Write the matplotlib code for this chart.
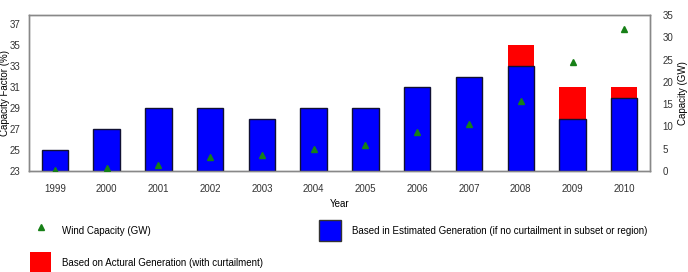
import matplotlib.pyplot as plt
import numpy as np
from matplotlib.lines import Line2D
from matplotlib.patches import Patch

plt.rcParams['font.family'] = ['Liberation Sans', 'DejaVu Sans']
plt.rcParams['font.size'] = 7

# data
years = ['1999', '2000', '2001', '2002', '2003', '2004',
         '2005', '2006', '2007', '2008', '2009', '2010']
cf_estimated = [25, 27, 29, 29, 28, 29, 29, 31, 32, 33, 28, 30]
cf_actual = [np.nan] * 9 + [35, 31, 31]
wind_gw = [0.3, 0.7, 1.4, 3.2, 3.7, 5.0, 5.8, 8.7, 10.5, 15.8, 24.5, 31.9]

base = 23
x = np.arange(len(years))

fig = plt.figure(figsize=(6.88, 2.72), dpi=100, facecolor='white')
ax = fig.add_axes([0.042, 0.371, 0.903, 0.574])

# red bars (with curtailment) sit behind blue bars
actual_h = [v - base for v in cf_actual]
ax.bar(x, actual_h, bottom=base, width=0.51, color='#ff0000', edgecolor='none', zorder=2)
ax.bar(x, [v - base for v in cf_estimated], bottom=base, width=0.51,
       color='#0000ff', edgecolor='#111133', linewidth=1.0, zorder=3)

ax.set_xlim(-0.5, len(years) - 0.5)
ax.set_ylim(23, 37.86)
ax.set_yticks(np.arange(23, 38, 2))
ax.set_xticks(x)
ax.set_xticklabels(years)
ax.set_xlabel('Year', fontsize=7, labelpad=4)
ax.set_ylabel('Capacity Factor (%)', fontsize=7, labelpad=0)
ax.tick_params(axis='x', length=0, pad=9, colors='#333333')
ax.tick_params(axis='y', length=0, pad=6, colors='#333333')

ax2 = ax.twinx()
ax2.plot(x, wind_gw, linestyle='none', marker='^', markersize=5,
         color='#178017', zorder=5)
ax2.set_ylim(0, 35)
ax2.set_yticks(np.arange(0, 36, 5))
ax2.set_ylabel('Capacity (GW)', fontsize=7, labelpad=3)
ax2.tick_params(length=0, pad=9, colors='#333333')

for a in (ax, ax2):
    for s in a.spines.values():
        s.set_color('#888888')
        s.set_linewidth(1.0)

handles = [
    Line2D([], [], linestyle='none', marker='^', markersize=5, color='#178017'),
    Patch(facecolor='#ff0000', edgecolor='none'),
    Patch(facecolor='#0000ff', edgecolor='#333333'),
]
labels = [
    'Wind Capacity (GW)',
    'Based on Actural Generation (with curtailment)',
    'Based in Estimated Generation (if no curtailment in subset or region)',
]
fig.legend(handles, labels, ncol=2, loc='upper left', bbox_to_anchor=(0.0436, 0.191),
           frameon=False, fontsize=7, handlelength=2.2, handleheight=3.0,
           columnspacing=5.8, labelspacing=1.1, handletextpad=1.1,
           borderaxespad=0, borderpad=0)

fig.savefig('out.png', dpi=100, facecolor='white')
